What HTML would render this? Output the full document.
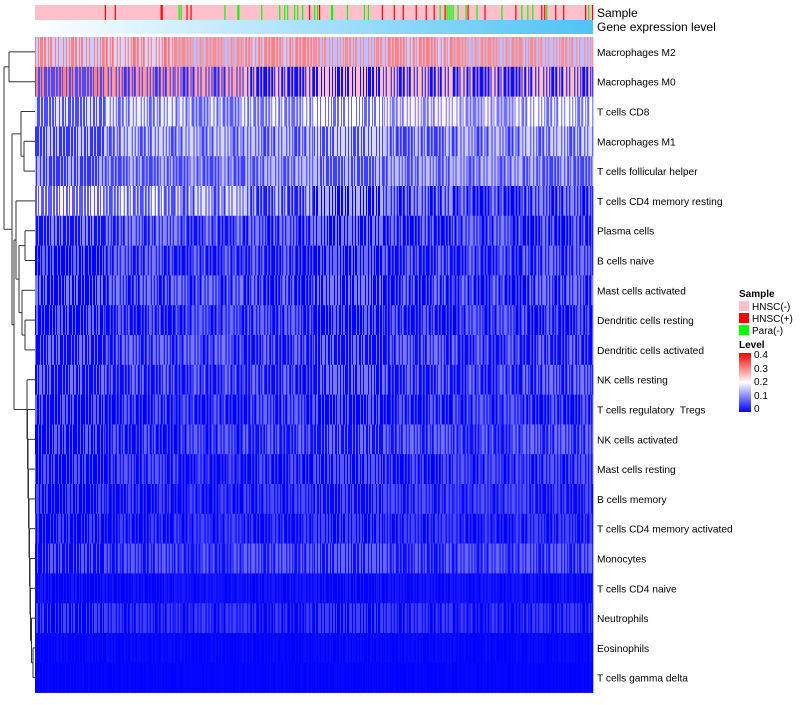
<!DOCTYPE html>
<html><head><meta charset="utf-8"><style>
body{margin:0;background:#fff;}
svg text{font-family:"Liberation Sans",sans-serif;fill:#000;white-space:pre;}
</style></head><body>
<svg id="c" width="800" height="700" xmlns="http://www.w3.org/2000/svg">
<defs>
<linearGradient id="gexp" x1="0" x2="1" y1="0" y2="0"><stop offset="0" stop-color="#ffffff"/><stop offset="1" stop-color="#4fc3f7"/></linearGradient>
<linearGradient id="lvl" x1="0" x2="0" y1="1" y2="0"><stop offset="0" stop-color="#0000ff"/><stop offset="0.5" stop-color="#ffffff"/><stop offset="1" stop-color="#ff0000"/></linearGradient>
</defs>
<g id="hm"></g>
<g id="dend" stroke="#333" stroke-width="1" fill="none"></g>
<g id="ann"></g>
<g id="legend">
<text x="739" y="297" font-size="10" font-weight="bold">Sample</text>
<rect x="739" y="301" width="10" height="10" fill="#ffc0cb"/><text x="752" y="310" font-size="10">HNSC(-)</text>
<rect x="739" y="313" width="10" height="10" fill="#ff0000"/><text x="752" y="322" font-size="10">HNSC(+)</text>
<rect x="739" y="325" width="10" height="10" fill="#00ff00"/><text x="752" y="334" font-size="10">Para(-)</text>
<text x="739" y="348" font-size="10" font-weight="bold">Level</text>
<rect x="739" y="353" width="12" height="59" fill="url(#lvl)"/>
<text x="754" y="358" font-size="10">0.4</text><text x="754" y="372" font-size="10">0.3</text><text x="754" y="385" font-size="10">0.2</text><text x="754" y="399" font-size="10">0.1</text><text x="754" y="412" font-size="10">0</text>
</g>
</svg>
<script>
const rowNames=["Macrophages M2","Macrophages M0","T cells CD8","Macrophages M1","T cells follicular helper","T cells CD4 memory resting","Plasma cells","B cells naive","Mast cells activated","Dendritic cells resting","Dendritic cells activated","NK cells resting","T cells regulatory  Tregs","NK cells activated","Mast cells resting","B cells memory","T cells CD4 memory activated","Monocytes","T cells CD4 naive","Neutrophils","Eosinophils","T cells gamma delta"];
const rowValues=[
[0.23,0.24,0.22,0.23,0.22,0.23,0.22,0.22],
[0.18,0.16,0.15,0.13,0.13,0.13,0.13,0.13],
[0.12,0.13,0.13,0.14,0.14,0.15,0.15,0.14],
[0.10,0.11,0.11,0.10,0.11,0.10,0.10,0.11],
[0.09,0.10,0.10,0.10,0.10,0.10,0.10,0.10],
[0.14,0.13,0.11,0.09,0.07,0.05,0.04,0.04],
[0.06,0.06,0.06,0.05,0.05,0.05,0.05,0.05],
[0.04,0.05,0.05,0.05,0.04,0.05,0.05,0.05],
[0.05,0.05,0.05,0.05,0.05,0.05,0.05,0.05],
[0.04,0.04,0.04,0.04,0.04,0.04,0.04,0.04],
[0.05,0.05,0.05,0.05,0.05,0.05,0.05,0.05],
[0.05,0.05,0.05,0.05,0.05,0.05,0.05,0.05],
[0.04,0.04,0.04,0.04,0.04,0.04,0.04,0.04],
[0.04,0.04,0.04,0.05,0.05,0.05,0.05,0.05],
[0.035,0.035,0.03,0.035,0.035,0.035,0.035,0.035],
[0.03,0.03,0.03,0.03,0.035,0.035,0.035,0.035],
[0.025,0.025,0.025,0.025,0.025,0.025,0.025,0.025],
[0.04,0.04,0.045,0.045,0.045,0.045,0.045,0.045],
[0.008,0.008,0.008,0.008,0.008,0.008,0.008,0.01],
[0.025,0.02,0.02,0.02,0.02,0.02,0.02,0.02],
[0.004,0.004,0.004,0.004,0.004,0.004,0.004,0.004],
[0.002,0.002,0.002,0.002,0.002,0.002,0.002,0.002]];
const rowSpread=[0.07,0.12,0.06,0.06,0.05,0.07,0.05,0.045,0.05,0.045,0.045,0.045,0.04,0.04,0.035,0.03,0.03,0.035,0.012,0.03,0.006,0.004];
const redSamples=[70,80,126,127,152,156,275,285,348,360,369,382,392,400,411,434,451,482,508,511,522,530,552,559];
const greenSamples=[144,146,190,203,204,227,245,250,253,260,263,268,280,283,297,298,313,330,334,406,413,415,417,419,424,432,443,468,488,494,499,513,555];
const nSamples=560;
const merges=[[0,1,9],[3,4,24],[2,23,21],[6,7,25],[9,10,25],[8,26,22],[25,27,19],[5,28,16],
[20,21,33],[19,30,31.5],[18,31,30.5],[17,32,30],[16,33,29.5],[15,34,29],[14,35,28.5],[13,36,28],[12,37,27.5],[11,38,27],
[29,39,14],[24,40,12],[22,41,4]];
const stripeW=[1,2,1,1,3,1,2,2,1,1,2,3,1,2,1,4,1,2];
const NS="http://www.w3.org/2000/svg";
const X0=35,X1=593,Y0=37,RH=29.8;
function color(v){v=Math.max(0,Math.min(0.4,v));let r,g,b;if(v<0.2){const t=v/0.2;r=255*t;g=255*t;b=255;}else{const t=(v-0.2)/0.2;r=255;g=255*(1-t);b=255*(1-t);}return `rgb(${r|0},${g|0},${b|0})`;}
function xs(i){return X0+(X1-X0)*i/nSamples;}
function rowY(i){return Y0+RH*i;}
const hm=document.getElementById('hm');
rowValues.forEach((vals,r)=>{
  const g=document.createElementNS(NS,'g');
  
  
  const sw=(X1-X0)/vals.length;
  const s=rowSpread[r];
  let k=r*5;
  vals.forEach((v,c)=>{
    let x=X0+sw*c, end=X0+sw*(c+1), hi=((r+c)%2===0);
    while(x<end){
      const w=Math.min(stripeW[k%stripeW.length],end-x);k++;
      const rc=document.createElementNS(NS,'rect');
      rc.setAttribute('x',x);rc.setAttribute('y',rowY(r));rc.setAttribute('width',w+0.3);rc.setAttribute('height',RH+0.3);
      rc.setAttribute('fill',color(hi?v+s:v-s));
      
      
      g.appendChild(rc);
      hi=!hi;x+=w;
    }
  });
  const tx=document.createElementNS(NS,'text');tx.setAttribute('x',597);tx.setAttribute('y',rowY(r)+RH/2+4);tx.setAttribute('font-size','10.2');tx.textContent=rowNames[r];
  
  
  g.appendChild(tx);
  hm.appendChild(g);
});
const ann=document.getElementById('ann');
function addRect(x,y,w,h,f,name){const rc=document.createElementNS(NS,'rect');rc.setAttribute('x',x);rc.setAttribute('y',y);rc.setAttribute('width',w);rc.setAttribute('height',h);rc.setAttribute('fill',f);


ann.appendChild(rc);}
addRect(X0,5,X1-X0,15,'#ffc0cb','sample-annotation-bar');
redSamples.forEach(s=>addRect(xs(s),5,1.2,15,'#ff0000','sample-hnsc-pos'));
greenSamples.forEach(s=>addRect(xs(s),5,1.2,15,'#00ff00','sample-para-neg'));
addRect(X0,20,X1-X0,14,'url(#gexp)','gene-expression-bar');
function addText(x,y,s,name){const t=document.createElementNS(NS,'text');t.setAttribute('x',x);t.setAttribute('y',y);t.setAttribute('font-size','12');t.textContent=s;


ann.appendChild(t);}
addText(597,17,'Sample','sample-annotation-label');
addText(597,31,'Gene expression level','gene-expression-label');
const dend=document.getElementById('dend');
const nodes=[];for(let i=0;i<rowNames.length;i++)nodes.push({y:rowY(i)+RH/2,x:X0});
function line(x1,y1,x2,y2){const l=document.createElementNS(NS,'path');l.setAttribute('d',`M${x1},${y1}L${x2},${y2}`);


dend.appendChild(l);}
merges.forEach(([a,b,h])=>{const A=nodes[a],B=nodes[b];line(A.x,A.y,h,A.y);line(B.x,B.y,h,B.y);line(h,A.y,h,B.y);nodes.push({x:h,y:(A.y+B.y)/2});});
</script>
</body></html>
